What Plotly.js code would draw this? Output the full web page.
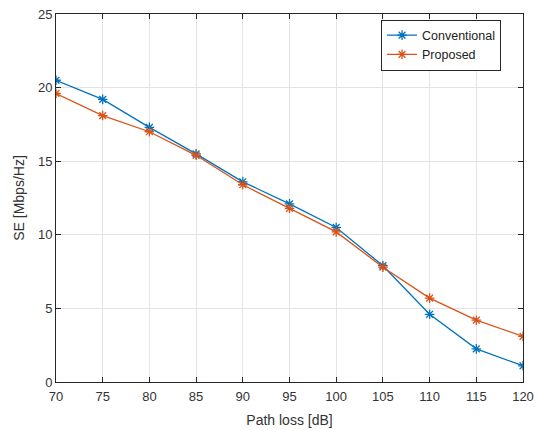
<!DOCTYPE html>
<html><head><meta charset="utf-8">
<script src="https://cdn.plot.ly/plotly-3.0.1.min.js"></script>
<style>html,body{margin:0;padding:0;background:#fff}#c{width:539px;height:430px}</style>
</head><body><div id="c"></div>
<script>
const pathLoss = [70, 75, 80, 85, 90, 95, 100, 105, 110, 115, 120];
const conventional = [20.5, 19.2, 17.3, 15.5, 13.6, 12.1, 10.5, 7.9, 4.6, 2.25, 1.1];
const proposed = [19.6, 18.1, 17.0, 15.4, 13.4, 11.8, 10.2, 7.8, 5.7, 4.2, 3.1];
const xTicks = [70, 75, 80, 85, 90, 95, 100, 105, 110, 115, 120];
const yTicks = [0, 5, 10, 15, 20, 25];

const traces = [
  {x: pathLoss, y: conventional, name: 'Conventional', mode: 'lines+markers',
   line: {color: '#0072BD', width: 1.3},
   marker: {symbol: 'asterisk-open', size: 8, color: '#0072BD', line: {color: '#0072BD', width: 1.3}}},
  {x: pathLoss, y: proposed, name: 'Proposed', mode: 'lines+markers',
   line: {color: '#D95319', width: 1.3},
   marker: {symbol: 'asterisk-open', size: 8, color: '#D95319', line: {color: '#D95319', width: 1.3}}}
];

const axisCommon = {
  showline: true, linecolor: '#262626', linewidth: 1, mirror: 'ticks',
  ticks: 'inside', ticklen: 5, tickcolor: '#262626',
  showgrid: true, gridcolor: '#e3e3e3', gridwidth: 1, zeroline: false,
  tickfont: {family: 'Liberation Sans, Arial, sans-serif', size: 13, color: '#333'}
};

const layout = {
  width: 539, height: 430,
  margin: {l: 56, r: 16, t: 14, b: 48},
  paper_bgcolor: '#fff', plot_bgcolor: '#fff',
  showlegend: true,
  xaxis: Object.assign({}, axisCommon, {
    range: [70, 120], tickvals: xTicks, ticktext: xTicks.map(String),
    ticklabelstandoff: 2,
    title: {text: 'Path loss [dB]', standoff: 12, font: {family: 'Liberation Sans, Arial, sans-serif', size: 14, color: '#333'}}
  }),
  yaxis: Object.assign({}, axisCommon, {
    range: [0, 25], tickvals: yTicks, ticktext: yTicks.map(String),
    title: {text: 'SE [Mbps/Hz]', standoff: 10, font: {family: 'Liberation Sans, Arial, sans-serif', size: 14, color: '#333'}}
  }),
  legend: {
    x: 0.696, y: 0.985, xanchor: 'left', yanchor: 'top',
    bgcolor: '#fff', bordercolor: '#262626', borderwidth: 1,
    font: {family: 'Liberation Sans, Arial, sans-serif', size: 12.5, color: '#222'},
    tracegroupgap: 0, itemwidth: 30
  }
};

Plotly.newPlot('c', traces, layout, {displayModeBar: false, staticPlot: true});
</script></body></html>
